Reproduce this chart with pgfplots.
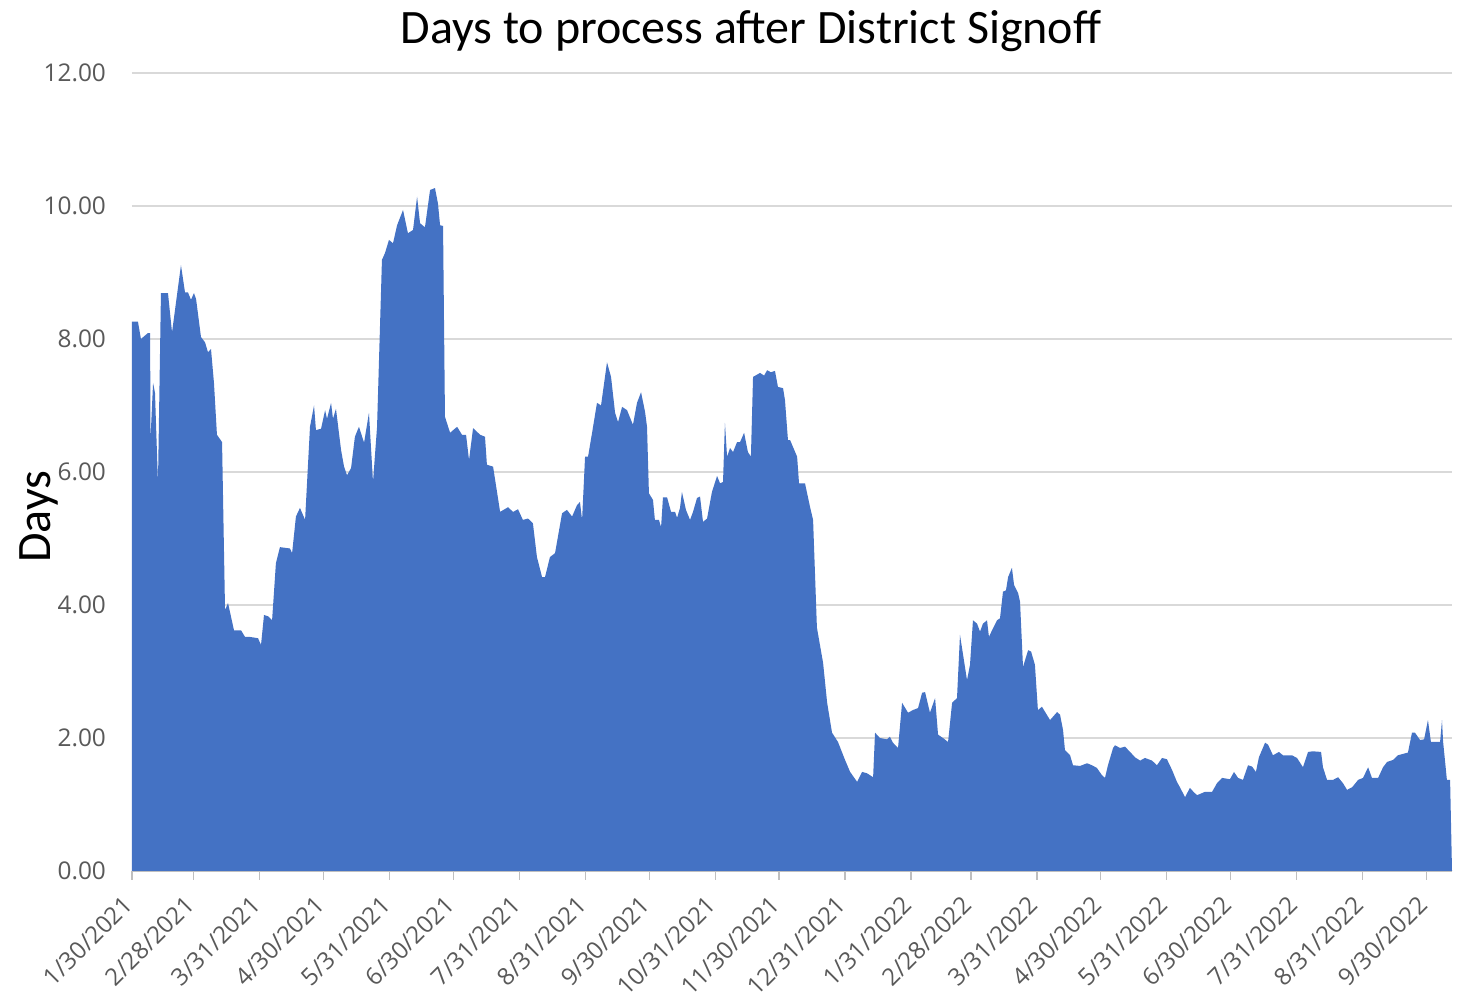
\documentclass[border=0pt]{standalone}
\usepackage{pgfplots}
\pgfplotsset{compat=1.18}
\usepackage{fontspec}
\setmainfont{Carlito}
\newfontfamily\tickfont{Open Sans}
\definecolor{areablue}{HTML}{4472C4}
\definecolor{ticktext}{HTML}{595959}
\definecolor{gridgray}{HTML}{D9D9D9}
\definecolor{axisgray}{HTML}{BFBFBF}
\pgfplotstableread{
day val
0 8.26
2.8 8.26
4.2 8.0
7.5 8.09
8.5 8.09
8.7 6.5
9.9 7.34
10.8 7.19
12.2 5.83
13.6 8.69
16.9 8.69
18.8 8.1
23.0 9.11
24.9 8.7
26.3 8.7
27.7 8.59
29.1 8.69
30.1 8.6
32.4 8.03
34.3 7.95
35.7 7.8
37.1 7.85
38.5 7.34
39.9 6.56
42.3 6.45
43.7 3.92
45.1 4.03
47.9 3.62
51.2 3.62
53.1 3.52
55.4 3.52
59.2 3.5
60.6 3.4
62.0 3.85
63.9 3.83
65.8 3.77
67.6 4.63
69.5 4.87
74.2 4.85
75.2 4.78
77.0 5.33
78.9 5.46
81.3 5.28
83.6 6.68
85.5 7.0
86.4 6.63
88.8 6.65
90.7 6.93
91.6 6.8
93.5 7.04
94.4 6.8
95.8 6.95
98.2 6.33
99.6 6.08
101.0 5.95
102.9 6.06
104.7 6.53
106.6 6.68
109.0 6.44
111.3 6.89
113.2 5.85
115.1 6.68
117.4 9.19
118.8 9.29
120.7 9.49
122.6 9.44
124.5 9.71
127.3 9.94
129.6 9.59
132.0 9.64
133.9 10.14
135.3 9.74
137.6 9.68
140.0 10.24
142.3 10.27
143.7 10.04
144.7 9.71
146.1 9.7
147.0 6.83
149.4 6.59
152.7 6.68
155.0 6.56
156.9 6.56
158.3 6.18
160.2 6.66
163.5 6.56
165.8 6.53
166.7 6.11
169.6 6.08
172.9 5.4
176.6 5.47
179.0 5.4
181.3 5.44
183.6 5.28
186.0 5.3
188.3 5.23
190.2 4.72
192.6 4.42
194.0 4.42
196.3 4.72
198.7 4.78
202.0 5.38
204.3 5.43
206.7 5.33
209.0 5.5
210.4 5.55
211.4 5.28
212.8 6.23
214.2 6.23
216.1 6.59
218.4 7.04
220.3 7.0
223.1 7.65
225.0 7.43
226.9 6.89
228.3 6.75
230.2 6.98
232.5 6.93
235.3 6.71
237.2 7.04
239.1 7.2
241.0 6.9
241.9 6.68
242.8 5.68
244.7 5.58
245.6 5.28
247.5 5.28
248.5 5.17
249.4 5.62
251.3 5.62
253.2 5.4
255.1 5.4
256.0 5.31
257.4 5.46
258.3 5.7
260.2 5.43
262.1 5.28
263.5 5.4
265.4 5.61
266.8 5.63
268.2 5.25
270.1 5.3
272.4 5.7
274.8 5.94
276.2 5.83
277.6 5.85
278.5 6.74
279.5 6.23
280.9 6.36
282.3 6.3
284.2 6.45
285.6 6.45
287.5 6.59
289.3 6.3
290.7 6.23
291.7 7.43
295.0 7.49
296.9 7.45
298.3 7.53
300.1 7.5
302.0 7.52
303.4 7.28
305.8 7.26
306.7 7.08
308.1 6.48
309.1 6.48
312.4 6.23
313.3 5.83
316.1 5.83
318.5 5.47
319.9 5.28
321.7 3.66
324.6 3.13
326.5 2.53
328.8 2.08
331.6 1.94
334.9 1.67
337.3 1.49
340.6 1.34
342.9 1.49
345.2 1.47
348.1 1.41
349.0 2.08
351.3 2.0
354.6 1.98
356.0 2.02
357.4 1.93
359.8 1.85
361.7 2.53
364.5 2.38
366.8 2.42
369.2 2.45
371.1 2.68
372.5 2.69
374.8 2.38
377.2 2.6
378.6 2.05
380.9 2.0
383.3 1.94
385.2 2.53
387.5 2.6
388.9 3.55
392.2 2.87
393.6 3.1
395.0 3.77
396.9 3.72
398.3 3.6
399.7 3.72
401.6 3.77
402.5 3.52
404.4 3.65
406.3 3.77
407.7 3.8
409.1 4.2
410.5 4.22
411.5 4.42
413.3 4.56
414.3 4.3
416.2 4.18
417.1 4.05
418.5 3.07
420.9 3.32
422.3 3.3
424.1 3.1
425.5 2.42
427.4 2.47
431.2 2.27
434.5 2.39
435.9 2.35
437.3 2.12
438.2 1.82
440.6 1.74
442.0 1.59
445.3 1.58
448.6 1.62
450.9 1.59
453.2 1.55
455.6 1.44
457.0 1.4
458.4 1.59
460.8 1.85
461.7 1.89
464.1 1.85
466.4 1.87
468.8 1.79
471.1 1.71
473.5 1.66
475.8 1.7
479.1 1.66
481.4 1.59
483.8 1.7
486.1 1.68
488.5 1.52
490.8 1.34
492.2 1.26
494.6 1.11
496.9 1.25
498.3 1.2
500.2 1.14
502.5 1.17
503.9 1.19
507.3 1.19
509.6 1.32
512.0 1.4
515.7 1.38
517.6 1.49
519.5 1.4
521.8 1.37
524.2 1.59
526.1 1.57
527.9 1.49
529.3 1.71
532.2 1.93
533.6 1.9
535.9 1.74
538.7 1.79
540.6 1.74
544.8 1.74
547.2 1.7
550.0 1.56
552.4 1.79
554.7 1.8
558.5 1.79
559.4 1.56
561.3 1.37
564.1 1.37
566.5 1.41
568.8 1.32
570.7 1.22
573.1 1.26
575.9 1.37
578.2 1.4
580.6 1.56
582.4 1.4
585.3 1.4
587.6 1.56
589.5 1.64
592.3 1.67
594.6 1.74
598.0 1.77
599.3 1.78
601.2 2.08
602.6 2.08
605.0 1.97
606.9 1.98
608.7 2.27
610.1 1.94
614.4 1.94
615.3 2.27
615.8 1.95
617.6 1.37
619.1 1.37
620.0 0.0
}\datatable
\begin{document}
\begin{tikzpicture}
\useasboundingbox (-66pt,-64pt) rectangle (664pt,435.5pt);
\begin{axis}[
  at={(0,0)}, anchor=south west,
  scale only axis,
  width=660pt, height=399pt,
  xmin=0, xmax=620, ymin=0, ymax=12,
  ytick={0,2,4,6,8,10,12},
  yticklabel style={font=\tickfont\fontsize{12.2pt}{15pt}\selectfont, text=ticktext, xshift=-5pt},
  /pgf/number format/assume math mode=true,
  /pgf/number format/fixed, /pgf/number format/fixed zerofill, /pgf/number format/precision=2,
  xtick={0,29,60,90,121,151,182,213,243,274,304,335,366,394,425,455,486,516,547,578,608},
  xticklabels={1/30/2021,2/28/2021,3/31/2021,4/30/2021,5/31/2021,6/30/2021,7/31/2021,8/31/2021,9/30/2021,10/31/2021,11/30/2021,12/31/2021,1/31/2022,2/28/2022,3/31/2022,4/30/2022,5/31/2022,6/30/2022,7/31/2022,8/31/2022,9/30/2022},
  xticklabel shift=5.5pt,
  xticklabel style={xshift=-5pt, font=\tickfont\fontsize{12pt}{15pt}\selectfont, text=ticktext, rotate=45, anchor=north east, inner sep=1pt},
  axis x line*=bottom, axis y line*=left,
  x axis line style={draw=axisgray, line width=0.75pt, -},
  y axis line style={draw=none},
  tick align=outside,
  x tick style={draw=axisgray, line width=0.75pt},
  major tick length=4.5pt,
  y tick style={draw=none},
  ymajorgrids, grid style={draw=gridgray, line width=0.75pt},
  title={Days to process after District Signoff},
  title style={at={(axis description cs:0.469,1)}, anchor=center, yshift=15pt, font=\fontsize{24pt}{28pt}\selectfont},
  ylabel={Days},
  ylabel style={at={(axis description cs:-0.0705,0.444)}, anchor=center, font=\fontsize{24pt}{28pt}\selectfont},
  clip=false,
]
\addplot[fill=areablue, draw=none] table[x=day,y=val] {\datatable} \closedcycle;
\end{axis}
\end{tikzpicture}
\end{document}
